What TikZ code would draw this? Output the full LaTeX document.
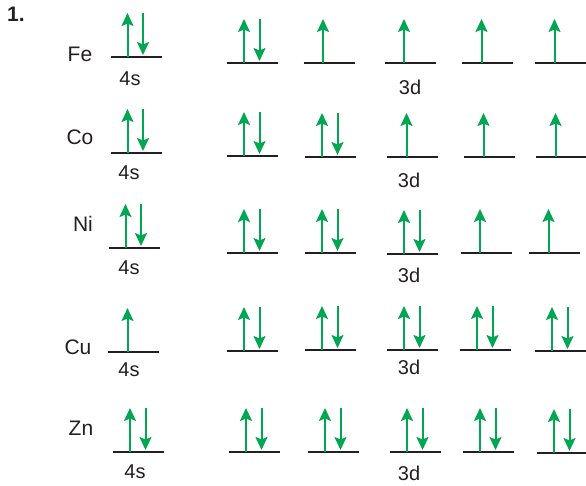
\documentclass[tikz,border=0pt]{standalone}
\usepackage{fontspec}
\setmainfont{Liberation Sans}
\usepackage{xcolor}
\usetikzlibrary{arrows.meta, calc}
\definecolor{colGreen}{HTML}{00A651}
\definecolor{colLevel}{HTML}{231F20}
\definecolor{colText}{HTML}{231F20}
\tikzset{
  % Orbital level line
  level/.style={line width=2pt, draw=colLevel},
  % Electron spin arrow
  spin/.style={-{Stealth[length=13pt,width=12pt,inset=2.5pt]}, line width=2pt, colGreen},
  % Labels
  elem/.style={font=\fontsize{21}{25}\selectfont, text=colText, inner sep=0pt},
  orblbl/.style={font=\fontsize{20}{24}\selectfont, text=colText, inner sep=0pt},
}
% Orbital: name, centre x, line y, number of electrons
\newcommand{\orbital}[4]{%
  \coordinate (#1) at (#2,#3);
  \draw[level] ($(#1)+(-25.5,0)$) -- ($(#1)+(25.5,0)$);
  \ifnum#4=1 \draw[spin] ($(#1)+(-6,0)$) -- ++(0,-44);\fi
  \ifnum#4=2
    \draw[spin] ($(#1)+(-8.5,0)$) -- ++(0,-44);
    \draw[spin] ($(#1)+(7,-44)$) -- ++(0,42);
  \fi
}

\begin{document}
\begin{tikzpicture}[x=1pt, y=-1pt]
\useasboundingbox (0,0) rectangle (586,486);

\node[font=\fontsize{21}{25}\selectfont\bfseries, text=colText, inner sep=0pt] (num) at (16,14.5) {1.};

%% ═══════════════════════════════════════════════════════════════
%% Fe
%% ═══════════════════════════════════════════════════════════════
\node[elem] (feLbl) at (80,54) {Fe};
\orbital{fe4s}{136}{57}{2}
\node[orblbl] (fe4sLbl) at (130,78.5) {4s};
\orbital{fe3da}{252.5}{63}{2}
\orbital{fe3db}{329}{63}{1}
\orbital{fe3dc}{410}{63}{1}
\orbital{fe3dd}{487.5}{63}{1}
\orbital{fe3de}{560.5}{63}{1}
\node[orblbl] (fe3dLbl) at (410,87.5) {3d};

%% ═══════════════════════════════════════════════════════════════
%% Co
%% ═══════════════════════════════════════════════════════════════
\node[elem] (coLbl) at (80,137) {Co};
\orbital{co4s}{136}{153}{2}
\node[orblbl] (co4sLbl) at (129,173) {4s};
\orbital{co3da}{252.5}{156}{2}
\orbital{co3db}{330.5}{157}{2}
\orbital{co3dc}{412.5}{157}{1}
\orbital{co3dd}{489.5}{157}{1}
\orbital{co3de}{561.5}{157}{1}
\node[orblbl] (co3dLbl) at (409,180) {3d};

%% ═══════════════════════════════════════════════════════════════
%% Ni
%% ═══════════════════════════════════════════════════════════════
\node[elem] (niLbl) at (83,224) {Ni};
\orbital{ni4s}{134}{248}{2}
\node[orblbl] (ni4sLbl) at (129,268) {4s};
\orbital{ni3da}{252.5}{253}{2}
\orbital{ni3db}{330.5}{253}{2}
\orbital{ni3dc}{412.5}{254}{2}
\orbital{ni3dd}{486}{253}{1}
\orbital{ni3de}{554.5}{253}{1}
\node[orblbl] (ni3dLbl) at (409,275) {3d};

%% ═══════════════════════════════════════════════════════════════
%% Cu
%% ═══════════════════════════════════════════════════════════════
\node[elem] (cuLbl) at (78,347) {Cu};
\orbital{cu4s}{133.5}{352}{1}
\node[orblbl] (cu4sLbl) at (129,370) {4s};
\orbital{cu3da}{252.5}{351}{2}
\orbital{cu3db}{330.5}{350}{2}
\orbital{cu3dc}{412.5}{350}{2}
\orbital{cu3dd}{485.5}{350}{2}
\orbital{cu3de}{560.5}{351}{2}
\node[orblbl] (cu3dLbl) at (409,367) {3d};

%% ═══════════════════════════════════════════════════════════════
%% Zn
%% ═══════════════════════════════════════════════════════════════
\node[elem] (znLbl) at (81,428) {Zn};
\orbital{zn4s}{138.5}{452}{2}
\node[orblbl] (zn4sLbl) at (135,472) {4s};
\orbital{zn3da}{254.5}{452}{2}
\orbital{zn3db}{333.5}{452}{2}
\orbital{zn3dc}{415.5}{452}{2}
\orbital{zn3dd}{488.5}{452}{2}
\orbital{zn3de}{562.5}{453}{2}
\node[orblbl] (zn3dLbl) at (409,473) {3d};

\end{tikzpicture}
\end{document}
